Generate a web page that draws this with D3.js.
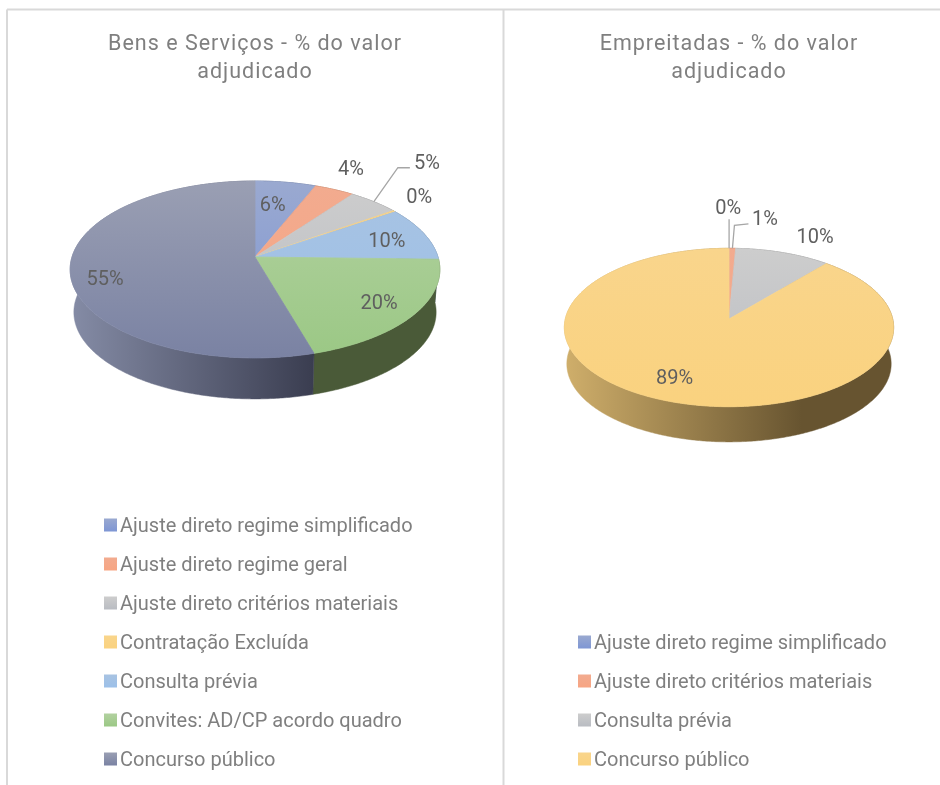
<!DOCTYPE html>
<html><head><meta charset="utf-8">
<script src="https://cdn.jsdelivr.net/npm/d3@7"></script>
<style>html,body{margin:0;padding:0;background:#fff}svg{display:block;filter:blur(0.45px)}</style>
</head><body><svg id="c" width="940" height="785"></svg>
<script>
// ---- data ----
const leftTitle = ["Bens e Serviços - % do valor", "adjudicado"];
const rightTitle = ["Empreitadas - % do valor", "adjudicado"];
const leftCategories = ["Ajuste direto regime simplificado","Ajuste direto regime geral","Ajuste direto critérios materiais","Contratação Excluída","Consulta prévia","Convites: AD/CP acordo quadro","Concurso público"];
const leftValues = [6.1, 4.0, 5.1, 0.3, 9.9, 20.1, 54.5];
const leftLabels = ["6%","4%","5%","0%","10%","20%","55%"];
const rightCategories = ["Ajuste direto regime simplificado","Ajuste direto critérios materiais","Consulta prévia","Concurso público"];
const rightValues = [0.02, 0.7, 10.4, 88.88];
const rightLabels = ["0%","1%","10%","89%"];

// ---- styles ----
const palette = {
  blue:  {top:["#9aa9d0","#7e96d4"], side:["#5c6f9c","#33415f"]},
  orange:{top:["#f2ab8f","#f7a583"], side:["#a8623c","#6f3f22"]},
  gray:  {top:["#cdcdcd","#b9bcc2"], side:["#8a8a8a","#555555"]},
  gold:  {top:["#f9d58c","#fad27f"], side:["#d0af6b","#675430"]},
  sky:   {top:["#a8c3e2","#9cc0e9"], side:["#6a88a8","#3f566f"]},
  green: {top:["#b2d1a0","#9bc885"], side:["#4a5a38","#4a5a38"]},
  navy:  {top:["#9a9fb3","#7a82a3"], side:["#858ca6","#3a3d50"]}
};
const leftColors = ["blue","orange","gray","gold","sky","green","navy"];
const rightColors = ["blue","orange","gray","gold"];
const textGrey = "#7f7f7f", labelGrey = "#5f5f5f", font = "Roboto, sans-serif";

const svg = d3.select("#c");
const defs = svg.append("defs");

function grad(id, x1, y1, x2, y2, stops, units){
  const g = defs.append("linearGradient").attr("id",id)
    .attr("gradientUnits", units||"userSpaceOnUse")
    .attr("x1",x1).attr("y1",y1).attr("x2",x2).attr("y2",y2);
  g.append("stop").attr("offset",0).attr("stop-color",stops[0]);
  g.append("stop").attr("offset",1).attr("stop-color",stops[1]);
}

// frame
const frame = [[7,785,7,9.5],[7,9.5,940,9.5],[503.5,9.5,503.5,785]];
svg.selectAll("line.frame").data(frame).join("line").attr("class","frame")
  .attr("x1",d=>d[0]).attr("y1",d=>d[1]).attr("x2",d=>d[2]).attr("y2",d=>d[3])
  .attr("stroke","#d9d9d9").attr("stroke-width",2);

const line = d3.line();

function drawPie(cfg){
  const {id, values, colors, labels, cx, cy, R, k, p, drop, shrink, shadeEnd, labelOffsets, leaders} = cfg;
  const g = svg.append("g");
  const project = (t, r=1, lower=false) => {
    const u = r*Math.sin(t), v = -r*Math.cos(t), d = 1 - p*v;
    const X = R*u/d, Y = k*v/d;
    return lower ? [cx + shrink*X, cy + drop + shrink*Y] : [cx + X, cy + Y];
  };
  const arcs = d3.pie().sort(null).value(d=>d)(values);
  const xMin = cx - R*1.01, xMax = cx + R*1.01;
  const yMin = cy - k/(1+p), yMax = cy + k/(1-p);
  colors.forEach((c,i)=>{
    grad(`${id}t${i}`,0,yMin,0,yMax,palette[c].top);
    grad(`${id}s${i}`,xMin,0,xMin+(xMax-xMin)*shadeEnd,0,palette[c].side);
  });
  const samples = (a) => {
    const n = Math.max(2, Math.ceil((a.endAngle-a.startAngle)/0.01));
    return d3.range(n+1).map(j => a.startAngle + (a.endAngle-a.startAngle)*j/n);
  };
  // walls
  g.selectAll("path.wall").data(arcs).join("path").attr("class","wall")
    .attr("d", a => {
      const ts = samples(a);
      return line(ts.map(t=>project(t)).concat(ts.slice().reverse().map(t=>project(t,1,true)))) + "Z";
    })
    .attr("fill",(a,i)=>`url(#${id}s${i})`)
    .attr("stroke",(a,i)=>`url(#${id}s${i})`).attr("stroke-width",.5);
  // top faces
  g.selectAll("path.top").data(arcs).join("path").attr("class","top")
    .attr("d", a => line([[cx,cy]].concat(samples(a).map(t=>project(t)))) + "Z")
    .attr("fill",(a,i)=>`url(#${id}t${i})`)
    .attr("stroke",(a,i)=>`url(#${id}t${i})`).attr("stroke-width",.8);
  // leaders
  leaders.forEach(l=>{
    const a = arcs[l.i], s = project((a.startAngle+a.endAngle)/2);
    g.append("path").attr("fill","none").attr("stroke","#a6a6a6").attr("stroke-width",1.3)
      .attr("d", line([s].concat(l.steps.map(o=>[s[0]+o[0],s[1]+o[1]]))));
  });
  // labels
  g.selectAll("text.lab").data(arcs).join("text").attr("class","lab")
    .attr("x",(a,i)=>project((a.startAngle+a.endAngle)/2)[0]+labelOffsets[i][0])
    .attr("y",(a,i)=>project((a.startAngle+a.endAngle)/2)[1]+labelOffsets[i][1])
    .attr("text-anchor","middle").attr("dominant-baseline","central")
    .attr("font-family",font).attr("font-size",20).attr("fill",labelGrey)
    .text((a,i)=>labels[i]);
}

function drawTitle(lines, x){
  svg.selectAll(null).data(lines).join("text")
    .attr("x",x).attr("y",(d,i)=>50+i*27.5)
    .attr("text-anchor","middle").attr("font-family",font).attr("font-size",21.5)
    .attr("letter-spacing",1).attr("fill",textGrey).text(d=>d);
}

function drawLegend(id, cats, colors, swatchX, textX){
  const y = d3.scaleLinear().domain([0,1]).range([759-(cats.length-1)*39, 759-(cats.length-2)*39]);
  colors.forEach((c,i)=>grad(`${id}l${i}`,0,0,0,1,palette[c].top,"objectBoundingBox"));
  svg.selectAll(null).data(cats).join("rect")
    .attr("x",swatchX).attr("y",(d,i)=>y(i)-6.5).attr("width",13).attr("height",13)
    .attr("fill",(d,i)=>`url(#${id}l${i})`);
  svg.selectAll(null).data(cats).join("text")
    .attr("x",textX).attr("y",(d,i)=>y(i)).attr("dominant-baseline","central")
    .attr("font-family",font).attr("font-size",20).attr("fill",textGrey).text(d=>d);
}

drawTitle(leftTitle,255);
drawTitle(rightTitle,729);

drawPie({id:"a",values:leftValues,colors:leftColors,labels:leftLabels,
  cx:255,cy:257,R:183,k:86.7,p:.141,drop:43,shrink:.98,shadeEnd:.66,
  labelOffsets:[[-13,22],[16.5,-21.6],[53,-40],[25,-15],[-37,6.5],[-34.6,-13],[35,8.5]],
  leaders:[{i:2,steps:[[24,-34],[36,-34]]}]});
drawPie({id:"b",values:rightValues,colors:rightColors,labels:rightLabels,
  cx:729,cy:319,R:163.7,k:78.3,p:.1073,drop:36.5,shrink:.985,shadeEnd:.72,
  labelOffsets:[[-1,-41],[32.6,-30],[32,-17],[8,-24]],
  leaders:[{i:0,steps:[[0,-29]]},{i:1,steps:[[2,-23],[16,-24.5]]}]});

drawLegend("a",leftCategories,leftColors,104,120);
drawLegend("b",rightCategories,rightColors,578,594);
</script></body></html>
